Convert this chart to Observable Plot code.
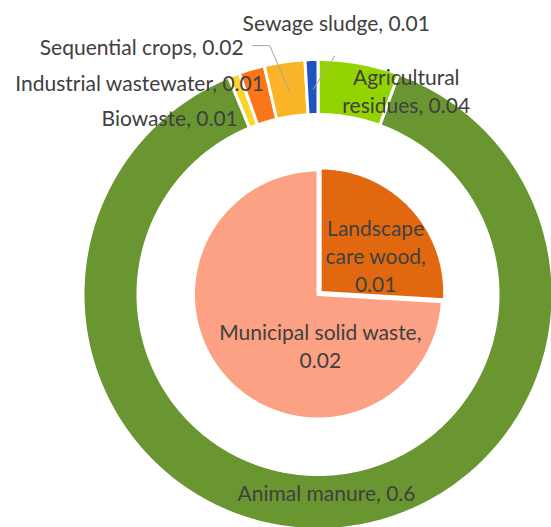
<!DOCTYPE html>
<html><head><meta charset="utf-8">
<script src="https://cdn.jsdelivr.net/npm/d3@7"></script>
<script src="https://cdn.jsdelivr.net/npm/@observablehq/plot@0.6"></script>
<style>
html,body{margin:0;padding:0;background:#fff;overflow:hidden;}
#chart{width:551px;height:527px;overflow:hidden;}
</style>
</head><body><div id="chart"></div>
<script>
// ---- data ----
const outerNames = ["Agricultural residues", "Animal manure", "Biowaste", "Industrial wastewater", "Sequential crops", "Sewage sludge"];
const outerValues = [0.038, 0.6, 0.0052, 0.012, 0.019, 0.006];
const innerNames = ["Landscape care wood", "Municipal solid waste"];
const innerValues = [0.007, 0.02];

// ---- styles ----
const outerColors = ["#92d300", "#6a9631", "#f8d42c", "#fb7619", "#f9b428", "#2152c4"];
const innerColors = ["#e2680f", "#fca183"];
const textColor = "#404040";
const leaderColor = "#a6a6a6";
const fontFamily = "Lato, 'Open Sans', sans-serif";

// ---- layout ----
const W = 551, H = 527, CX = 317.5, CY = 294, R = 235;
const ringInnerPx = 180, pieRPx = 124.5, explodePx = 3;
const u = v => v / R;
// label layout: ring centroid or pie point, pixel offsets, anchor, word wrap
const labelLayout = {
  "Agricultural residues": {dx: 52, dy: 2, anchor: "middle", wrap: [1, 2]},
  "Animal manure": {dx: 4.5, dy: -7.5, anchor: "middle"},
  "Biowaste": {dx: -6, dy: 19, anchor: "end"},
  "Industrial wastewater": {dx: 4.5, dy: -10.5, anchor: "end"},
  "Sequential crops": {dx: -44.7, dy: -41, anchor: "end", leader: [[26, -2.5], [9, -2.5]]},
  "Sewage sludge": {dx: 24, dy: -63, anchor: "middle", leader: [[-1.5, 32]]},
  "Landscape care wood": {dx: 4, dy: 14, anchor: "middle", wrap: [1, 2, 1]},
  "Municipal solid waste": {dx: 56, dy: 2, anchor: "middle", wrap: [3, 1]}
};

const fmt = v => String(+v.toFixed(2));

function slices(names, values) {
  const arcs = d3.pie().sort(null).startAngle(0).endAngle(2 * Math.PI)(values);
  return arcs.map((a, i) => ({name: names[i], value: values[i], a0: a.startAngle, a1: a.endAngle, mid: (a.startAngle + a.endAngle) / 2}));
}
function polygon(s, r0, r1, explode) {
  const pts = [];
  const n = Math.max(2, Math.ceil((s.a1 - s.a0) / (Math.PI / 360)));
  const ox = explode * Math.sin(s.mid), oy = explode * Math.cos(s.mid);
  for (let k = 0; k <= n; k++) {
    const a = s.a0 + (s.a1 - s.a0) * k / n;
    pts.push({name: s.name, x: ox + r1 * Math.sin(a), y: oy + r1 * Math.cos(a)});
  }
  if (r0 > 0) {
    for (let k = n; k >= 0; k--) {
      const a = s.a0 + (s.a1 - s.a0) * k / n;
      pts.push({name: s.name, x: ox + r0 * Math.sin(a), y: oy + r0 * Math.cos(a)});
    }
  } else {
    pts.push({name: s.name, x: ox, y: oy});
  }
  return pts;
}

const outerSlices = slices(outerNames, outerValues);
const innerSlices = slices(innerNames, innerValues);

const shapes = [
  ...outerSlices.flatMap(s => polygon(s, u(ringInnerPx), 1, 0)),
  ...innerSlices.flatMap((s, i) => polygon(s, 0, u(pieRPx), i === 0 ? u(explodePx) : 0))
];

function wrapText(str, wrap) {
  if (!wrap) return str;
  const words = str.split(" ");
  const lines = []; let k = 0;
  for (const c of wrap) { lines.push(words.slice(k, k + c).join(" ")); k += c; }
  return lines.join("\n");
}

const labels = [];
const leaders = [];
function addLabels(sl, rad) {
  for (const s of sl) {
    const L = labelLayout[s.name];
    const cx = rad * Math.sin(s.mid), cy = rad * Math.cos(s.mid);
    const lx = cx + u(L.dx), ly = cy - u(L.dy);
    labels.push({name: s.name, x: lx, y: ly, anchor: L.anchor, text: wrapText(`${s.name}, ${fmt(s.value)}`, L.wrap)});
    if (L.leader) {
      leaders.push({name: s.name, x: cx + u(1), y: cy - u(2)});
      for (const [ddx, ddy] of L.leader) leaders.push({name: s.name, x: lx + u(ddx), y: ly - u(ddy)});
    }
  }
}
addLabels(outerSlices, u((R + ringInnerPx) / 2));
addLabels(innerSlices, u(123 * 0.6));

const textOpts = anchor => ({x: "x", y: "y", text: "text", textAnchor: anchor, fill: textColor,
  fontSize: 21, fontFamily, lineHeight: 1.33, dy: -2.5});

const chart = Plot.plot({
  width: W, height: H, margin: 0,
  x: {domain: [-CX / R, (W - CX) / R], axis: null},
  y: {domain: [-(H - CY) / R, CY / R], axis: null},
  color: {domain: [...outerNames, ...innerNames], range: [...outerColors, ...innerColors]},
  style: {background: "white", overflow: "hidden"},
  marks: [
    Plot.line(shapes, {x: "x", y: "y", z: "name", fill: "name", stroke: "white", strokeWidth: 3, curve: "linear-closed"}),
    Plot.line(leaders, {x: "x", y: "y", z: "name", stroke: leaderColor, strokeWidth: 1}),
    Plot.text(labels.filter(d => d.anchor === "middle"), textOpts("middle")),
    Plot.text(labels.filter(d => d.anchor === "end"), textOpts("end"))
  ]
});
document.getElementById("chart").append(chart);
</script>
</body></html>
